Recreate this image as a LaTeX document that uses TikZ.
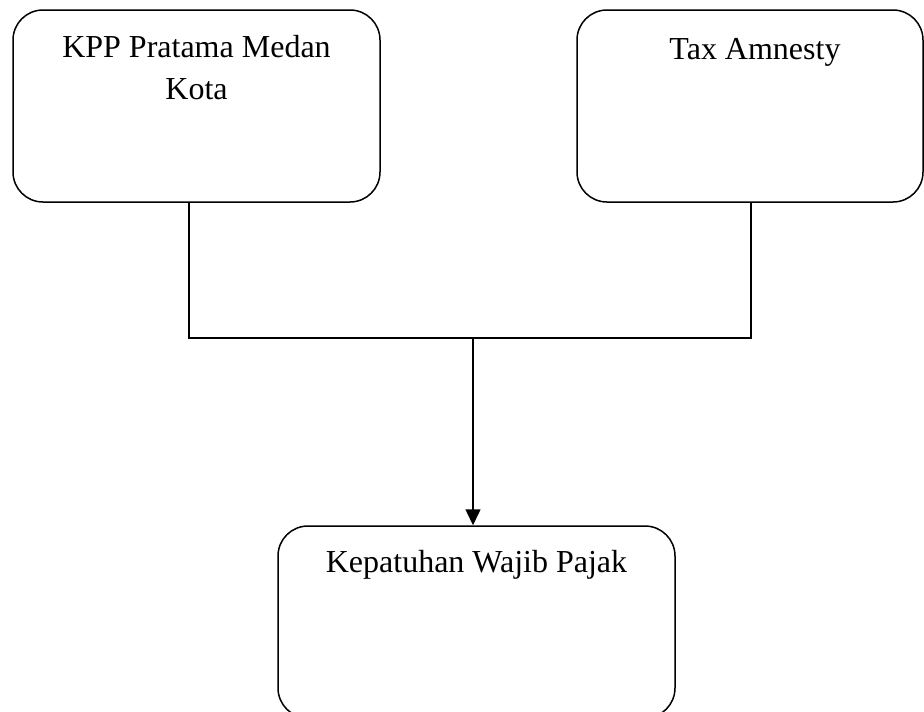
\documentclass[tikz,border=0pt]{standalone}
\usepackage{fontspec}
\setmainfont{Liberation Serif}
\usetikzlibrary{arrows.meta}
\tikzset{
	roundbox/.style={draw, line width=1.5pt, rounded corners=30pt, minimum width=#1, minimum height=192pt, inner sep=0pt},
	boxtext/.style={anchor=base, align=center, inner sep=0pt, font=\fontsize{32}{42}\selectfont},
	joinline/.style={line width=1.5pt},
}

\begin{document}
\begin{tikzpicture}[x=1pt, y=-1pt]
			%%%%% START %%%%%
			
			\useasboundingbox (0, 0) rectangle (924, 712);
			\clip (0, 0) rectangle (924, 712);
			
			\node[roundbox=367pt] (kpp) at (196.5, 106) {};
			\node[roundbox=346pt] (tax) at (750, 106) {};
			\node[roundbox=397pt] (kwp) at (476.5, 622) {};
			
			% base of a two-line node is its last line
			\node[boxtext] (kpptext) at ([yshift=-90pt]kpp.north) {KPP Pratama Medan\\Kota};
			\node[boxtext] (taxtext) at ([xshift=5pt, yshift=-50pt]tax.north) {Tax Amnesty};
			\node[boxtext] (kwptext) at ([yshift=-47pt]kwp.north) {Kepatuhan Wajib Pajak};
			
			\coordinate (jleft) at (189, 338);
			\coordinate (jright) at (751, 338);
			\coordinate (jmid) at (473, 338);
			
			\draw[joinline] (kpp.south -| jleft) -- (jleft) -- (jright) -- (tax.south -| jright);
			\draw[joinline, -{Triangle[length=16pt, width=15pt]}] (jmid) -- (jmid |- kwp.north);
			
			%%%%% END %%%%%
\end{tikzpicture}
\end{document}
